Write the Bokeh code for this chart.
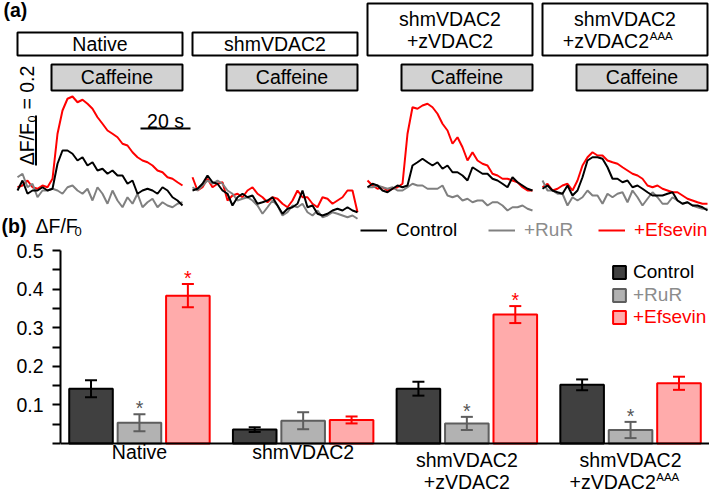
import math
from bokeh.plotting import figure
from bokeh.models import (ColumnDataSource, Range1d, FactorRange, Whisker, TeeHead,
                          Span, Legend, LegendItem, FixedTicker)
from bokeh.embed import file_html
from bokeh.resources import INLINE
from bokeh.core.properties import value

# ---------------- data ----------------
conditions = ["Native", "shmVDAC2", "shmVDAC2+zVDAC2", "shmVDAC2+zVDAC2AAA"]
treatments = ["Control", "+RuR", "+Efsevin"]
label_line1 = ["Native", "shmVDAC2", "shmVDAC2", "shmVDAC2"]
label_line2 = ["", "", "+zVDAC2", "+zVDAC2"]
label_sup = ["", "", "", "AAA"]

# panel (b): mean dF/F0 and SEM
control_mean = [0.142, 0.036, 0.142, 0.152]
control_err = [0.022, 0.006, 0.018, 0.014]
rur_mean = [0.054, 0.059, 0.052, 0.035]
rur_err = [0.022, 0.022, 0.017, 0.021]
efsevin_mean = [0.383, 0.061, 0.334, 0.156]
efsevin_err = [0.030, 0.009, 0.022, 0.017]
rur_sig = [True, False, True, True]
efsevin_sig = [True, False, True, False]

# panel (a): example traces, dF/F0 vs time (s)
time_s = [0, 2, 4, 6, 8, 10, 12, 14, 16, 18, 20, 22, 24, 26, 28, 30, 32,
          34, 36, 38, 40, 42, 44, 46, 48, 50, 52, 54, 56, 58, 60, 62, 64, 66]
caffeine_on_s = 13.6
trace_end_s = 66
scale_dff = 0.2
scale_time_s = 20

native_control = [-0.020, 0.020, -0.033, -0.020, -0.020, -0.007, -0.020, -0.013, 0.087, 0.140, 0.140, 0.127,
                  0.100, 0.113, 0.080, 0.093, 0.060, 0.067, 0.047, 0.060, 0.040, 0.040, 0.007, 0.020,
                  -0.033, -0.020, -0.013, -0.020, -0.033, -0.007, -0.020, -0.047, -0.060, -0.080]
native_rur = [0.033, 0.047, -0.007, 0.007, -0.047, -0.020, -0.020, -0.013, -0.020, -0.033, -0.007, 0.000,
              -0.020, -0.033, -0.013, -0.060, -0.007, -0.033, -0.073, -0.020, -0.060, -0.087, -0.047, -0.073,
              -0.033, -0.087, -0.067, -0.053, -0.087, -0.067, -0.080, -0.087, -0.073, -0.067]
native_efsevin = [-0.007, 0.000, 0.020, -0.007, -0.013, 0.000, -0.007, 0.027, 0.207, 0.300, 0.347, 0.356,
                  0.333, 0.343, 0.327, 0.307, 0.273, 0.247, 0.220, 0.207, 0.193, 0.167, 0.160, 0.133,
                  0.113, 0.100, 0.093, 0.080, 0.060, 0.053, 0.033, 0.027, 0.013, 0.000]

sh_control = [-0.020, -0.013, 0.007, 0.040, 0.013, 0.007, -0.020, -0.033, -0.080, -0.047, -0.033, -0.047,
              -0.040, -0.073, -0.067, -0.060, -0.047, -0.080, -0.113, -0.093, -0.087, -0.073, -0.020, -0.087,
              -0.080, -0.113, -0.120, -0.113, -0.100, -0.093, -0.100, -0.087, -0.100, -0.107]
sh_rur = [-0.007, -0.020, 0.000, 0.020, 0.007, 0.020, 0.007, -0.020, -0.033, -0.060, -0.053, -0.047,
          -0.060, -0.080, -0.113, -0.087, -0.060, -0.080, -0.120, -0.107, -0.080, -0.087, -0.073, -0.107,
          -0.120, -0.100, -0.127, -0.120, -0.107, -0.113, -0.120, -0.127, -0.120, -0.133]
sh_efsevin = [0.033, -0.020, -0.007, 0.027, -0.007, 0.007, 0.013, -0.060, -0.040, -0.033, -0.047, -0.020,
              -0.007, -0.033, -0.047, -0.067, -0.047, -0.053, -0.073, -0.087, -0.060, -0.020, -0.047, -0.047,
              -0.073, -0.087, -0.047, -0.053, -0.073, -0.060, -0.047, -0.020, -0.020, -0.107]

rescue_control = [-0.007, 0.007, 0.000, -0.020, -0.027, -0.013, 0.000, -0.007, 0.000, 0.080, 0.093, 0.107,
                  0.093, 0.080, 0.093, 0.067, 0.080, 0.053, 0.053, 0.040, 0.020, 0.073, 0.060, 0.047,
                  0.047, 0.027, 0.020, 0.007, -0.007, 0.033, 0.013, 0.000, -0.013, -0.020]
rescue_rur = [-0.007, -0.007, 0.000, -0.007, -0.013, -0.007, -0.020, -0.020, -0.007, 0.007, 0.000, 0.000,
              -0.013, -0.013, -0.013, 0.000, -0.040, -0.047, -0.040, -0.060, -0.053, -0.067, -0.060, -0.060,
              -0.080, -0.067, -0.067, -0.080, -0.100, -0.087, -0.087, -0.080, -0.093, -0.100]
rescue_efsevin = [0.020, 0.000, -0.013, -0.007, -0.020, -0.013, -0.007, 0.007, 0.207, 0.313, 0.307, 0.320,
                  0.327, 0.313, 0.287, 0.247, 0.220, 0.167, 0.193, 0.153, 0.100, 0.133, 0.100, 0.087,
                  0.080, 0.047, 0.040, 0.027, 0.027, 0.020, 0.013, -0.007, -0.020, -0.020]

aaa_control = [-0.013, 0.000, -0.020, -0.027, -0.033, 0.000, -0.040, -0.020, 0.033, 0.100, 0.113, 0.113,
               0.107, 0.073, 0.027, 0.027, 0.013, 0.020, -0.007, 0.000, -0.013, -0.027, -0.040, -0.040,
               -0.040, -0.033, -0.027, -0.060, -0.073, -0.067, -0.080, -0.080, -0.087, -0.100]
aaa_rur = [0.020, -0.020, -0.020, -0.033, -0.033, -0.080, -0.047, -0.060, -0.047, -0.020, -0.040, -0.040,
           -0.073, -0.033, -0.047, -0.033, -0.027, -0.067, -0.020, -0.047, -0.080, -0.053, -0.027, -0.047,
           -0.073, -0.073, -0.047, -0.060, -0.073, -0.067, -0.080, -0.087, -0.093, -0.093]
aaa_efsevin = [-0.007, 0.007, -0.020, -0.013, 0.000, 0.007, -0.020, 0.020, 0.080, 0.113, 0.133, 0.120,
               0.120, 0.100, 0.093, 0.087, 0.073, 0.060, 0.047, 0.040, 0.027, 0.000, -0.007, 0.000,
               -0.013, -0.020, -0.027, -0.027, -0.040, -0.053, -0.060, -0.067, -0.073, -0.073]

traces = {
    "Native": [native_control, native_rur, native_efsevin],
    "shmVDAC2": [sh_control, sh_rur, sh_efsevin],
    "shmVDAC2+zVDAC2": [rescue_control, rescue_rur, rescue_efsevin],
    "shmVDAC2+zVDAC2AAA": [aaa_control, aaa_rur, aaa_efsevin],
}

# ---------------- styling ----------------
FONT = value("Liberation Sans")
FS = "19.5px"
FS_LEG = "19px"
line_colors = ["#000000", "#808080", "#ff0000"]
text_colors = ["#000000", "#8c8c8c", "#ff0000"]
bar_fills = ["#404040", "#b2b2b2", "#ffabab"]
bar_lines = ["#000000", "#5e5e5e", "#ff0000"]
W = 709
HA, HB = 241, 252
panel_gap_s = 70


def add_text(p, xs, ys, texts, size=FS, color="black", align="center",
             baseline="middle", style="normal", angle=0.0):
    src = ColumnDataSource(dict(x=xs, y=ys, text=texts))
    p.text(x="x", y="y", text="text", source=src, text_font=FONT,
           text_font_size=value(size), text_color=color, text_align=align,
           text_baseline=baseline, text_font_style=style, angle=angle)


def one_legend(renderer, label, color, loc, gw, gh, standoff):
    return Legend(items=[LegendItem(label=label, renderers=[renderer])], location=loc,
                  orientation="horizontal", glyph_width=gw, glyph_height=gh,
                  label_height=gh, label_standoff=standoff, padding=0, margin=0,
                  spacing=0, border_line_color=None, background_fill_alpha=0,
                  label_text_font="Liberation Sans", label_text_font_size=FS_LEG,
                  label_text_color=color, label_text_baseline="middle")


# ---------------- panel (a) ----------------
def ax(px_x):
    return (px_x - 17) / 2.5


def ay(px_y):
    return (185 - px_y) / 250.0


pa = figure(width=W, height=HA, x_range=Range1d(ax(0), ax(W)),
            y_range=Range1d(ay(HA), ay(0)), output_backend="svg",
            toolbar_location=None, x_axis_location=None, y_axis_location=None,
            min_border_left=0, min_border_right=0, min_border_top=0, min_border_bottom=0)
pa.grid.grid_line_color = None
pa.outline_line_color = None

offsets = [i * panel_gap_s for i in range(len(conditions))]
two_line = [l2 != "" for l2 in label_line2]

box_src = ColumnDataSource(dict(left=offsets, right=[o + trace_end_s for o in offsets],
                                top=[ay(3) if t else ay(32) for t in two_line],
                                bottom=[ay(55)] * len(offsets)))
pa.quad(left="left", right="right", top="top", bottom="bottom", source=box_src,
        fill_color="white", line_color="black", line_width=2)
caf_src = ColumnDataSource(dict(left=[o + caffeine_on_s for o in offsets],
                                right=[o + trace_end_s for o in offsets],
                                top=[ay(64)] * len(offsets), bottom=[ay(90)] * len(offsets)))
pa.quad(left="left", right="right", top="top", bottom="bottom", source=caf_src,
        fill_color="#d2d2d2", line_color="black", line_width=2)

# condition names in boxes
cx = [o + trace_end_s / 2 for o in offsets]
for i, c in enumerate(conditions):
    if two_line[i]:
        add_text(pa, [cx[i]], [ay(18.5)], [label_line1[i]])
        if label_sup[i]:
            anchor = cx[i] + 9.6
            add_text(pa, [anchor], [ay(40)], [label_line2[i]], align="right")
            add_text(pa, [anchor + 0.3], [ay(35)], [label_sup[i]], size="11.5px", align="left")
        else:
            add_text(pa, [cx[i]], [ay(40)], [label_line2[i]])
    else:
        add_text(pa, [cx[i]], [ay(43.5)], [label_line1[i]])
add_text(pa, [o + (caffeine_on_s + trace_end_s) / 2 for o in offsets], [ay(76.5)] * 4,
         ["Caffeine"] * 4)

# traces
legend_renderers = []
for i, c in enumerate(conditions):
    rs = [None, None, None]
    for k in [2, 1, 0]:
        rs[k] = pa.line(x=[t + offsets[i] for t in time_s], y=traces[c][k],
                        line_color=line_colors[k], line_width=2)
    if i == 0:
        legend_renderers = rs

# scale bars
sb_x = ax(35.5)
pa.segment(x0=[sb_x], y0=[ay(165)], x1=[sb_x], y1=[ay(165) + scale_dff],
           line_color="black", line_width=2)
pa.segment(x0=[ax(140)], y0=[ay(128)], x1=[ax(140) + scale_time_s], y1=[ay(128)],
           line_color="black", line_width=2)
add_text(pa, [ax(165)], [ay(120)], ["%d s" % scale_time_s])
add_text(pa, [ax(26.5)], [ay(115)], ["\u0394F/F\u2080 = %.1f" % scale_dff],
         angle=math.pi / 2)

# panel letters
add_text(pa, [ax(3)], [ay(9.5)], ["(a)"], style="bold", align="left")
add_text(pa, [ax(1)], [ay(225)], ["(b)"], style="bold", align="left")
add_text(pa, [ax(35)], [ay(225.5)], ["\u0394F/F"], align="left")
add_text(pa, [ax(74)], [ay(231)], ["0"], size="13px", align="left")

# trace legend
lx = [360, 488, 598]
for k in range(3):
    pa.add_layout(one_legend(legend_renderers[k], treatments[k], text_colors[k],
                             (lx[k], HA - 233 - 8), 27, 16, 9))

# ---------------- panel (b) ----------------
def by(px_y):
    return (443 - px_y) / 386.0


factors = [(c, t) for c in conditions for t in treatments]
xr = FactorRange(*factors, group_padding=0.38, factor_padding=0.0,
                 range_padding=0.13, range_padding_units="absolute")
top_px = HA
pb = figure(width=W, height=HB, x_range=xr,
            y_range=Range1d(by(top_px + HB), by(top_px)),
            output_backend="svg", toolbar_location=None, x_axis_location=None,
            min_border_left=60, min_border_right=0, min_border_top=0, min_border_bottom=0)
pb.grid.grid_line_color = None
pb.outline_line_color = None

ya = pb.yaxis[0]
ya.ticker = FixedTicker(ticks=[0.1, 0.2, 0.3, 0.4, 0.5],
                        minor_ticks=[0.0, 0.05, 0.15, 0.25, 0.35, 0.45])
ya.bounds = (0, 0.5)
ya.axis_line_width = 2
ya.major_tick_line_width = 2
ya.minor_tick_line_width = 2
ya.major_tick_in = 0
ya.major_tick_out = 8
ya.minor_tick_in = 0
ya.minor_tick_out = 8
ya.major_label_standoff = 9
ya.major_label_text_font = "Liberation Sans"
ya.major_label_text_font_size = FS
ya.major_label_text_color = "black"

pb.add_layout(Span(location=0, dimension="width", line_color="black", line_width=2))

means = [control_mean, rur_mean, efsevin_mean]
errs = [control_err, rur_err, efsevin_err]
bar_renderers = []
for k, trt in enumerate(treatments):
    src = ColumnDataSource(dict(
        x=[(c, trt) for c in conditions], top=means[k],
        upper=[m + e for m, e in zip(means[k], errs[k])],
        lower=[m - e for m, e in zip(means[k], errs[k])]))
    r = pb.vbar(x="x", top="top", bottom=0, width=0.9, source=src,
                fill_color=bar_fills[k], line_color=bar_lines[k], line_width=2)
    bar_renderers.append(r)
    w = Whisker(source=src, base="x", upper="upper", lower="lower", level="annotation",
                line_color=bar_lines[k], line_width=2,
                upper_head=TeeHead(size=12, line_color=bar_lines[k], line_width=2),
                lower_head=TeeHead(size=12, line_color=bar_lines[k], line_width=2))
    pb.add_layout(w)

# significance asterisks (placed just above the error bar)
star_gap = 6 / 386.0
for k, sig in [(1, rur_sig), (2, efsevin_sig)]:
    xs = [(c, treatments[k]) for c, s in zip(conditions, sig) if s]
    ys = [m + e + star_gap for m, e, s in zip(means[k], errs[k], sig) if s]
    add_text(pb, xs, ys, ["*"] * len(xs), color="#555555" if k == 1 else "#ff0000")

# category labels
for i, c in enumerate(conditions):
    mid = (c, "+RuR")
    if two_line[i]:
        add_text(pb, [mid], [by(459)], [label_line1[i]])
        if label_sup[i]:
            add_text(pb, [(c, "+RuR", 0.52)], [by(481.5)], [label_line2[i]], align="right")
            add_text(pb, [(c, "+RuR", 0.53)], [by(476.5)], [label_sup[i]], size="11.5px", align="left")
        else:
            add_text(pb, [mid], [by(481.5)], [label_line2[i]])
    else:
        add_text(pb, [mid], [by(451.5)], [label_line1[i]])

# bar legend
leg_x = 611 - 60
for k, yc in enumerate([275, 298, 320]):
    bottom = HB - (yc - top_px) - 8
    pb.add_layout(one_legend(bar_renderers[k], treatments[k], text_colors[k],
                             (leg_x, bottom), 16, 16, 6))

open("out.html", "w").write(file_html([pa, pb], INLINE))
